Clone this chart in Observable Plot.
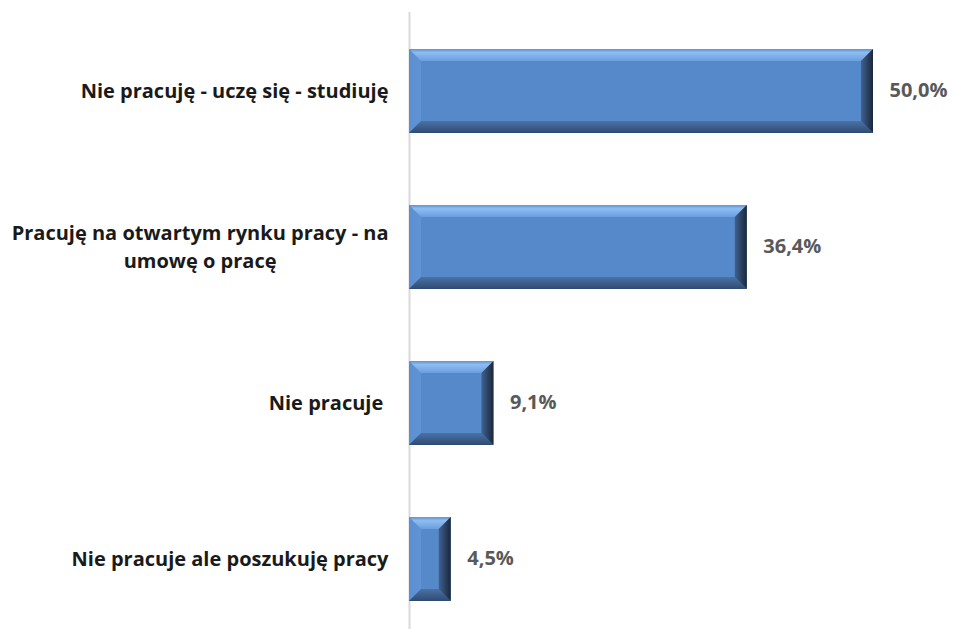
<!DOCTYPE html>
<html>
<head>
<meta charset="utf-8">
<script src="https://cdn.jsdelivr.net/npm/d3@7"></script>
<script src="https://cdn.jsdelivr.net/npm/@observablehq/plot@0.6"></script>
<style>
  html, body { margin: 0; padding: 0; background: #fff; }
  svg { display: block; }
</style>
</head>
<body>
<div id="chart"></div>
<script>
const categories = [
  "Nie pracuję - uczę się - studiuję",
  "Pracuję na otwartym rynku pracy - na\numowę o pracę",
  "Nie pracuje ",
  "Nie pracuje ale poszukuję pracy"
];
const values = [50.0, 36.4, 9.1, 4.5];
const valueLabels = ["50,0%", "36,4%", "9,1%", "4,5%"];

const data = categories.map((c, i) => ({cat: c, value: values[i], label: valueLabels[i]}));

function bevel(index, scales, vals, dimensions, context, next) {
  const g = next(index, scales, vals, dimensions, context);
  d3.select(g).selectAll("rect").each(function () {
    const x = +this.getAttribute("x"), y = +this.getAttribute("y");
    const w = +this.getAttribute("width"), h = +this.getAttribute("height");
    const b = Math.min(12, w / 3, h / 3);
    const parent = d3.select(this.parentNode);
    const poly = (pts, fill) => parent.append("polygon")
      .attr("points", pts.map(p => p.join(",")).join(" "))
      .attr("fill", fill);
    poly([[x, y], [x + b, y + b], [x + b, y + h - b], [x, y + h]], "url(#bvL)");
    poly([[x, y], [x + w, y], [x + w - b, y + b], [x + b, y + b]], "url(#bvT)");
    poly([[x, y + h], [x + b, y + h - b], [x + w - b, y + h - b], [x + w, y + h]], "url(#bvB)");
    poly([[x + w, y], [x + w, y + h], [x + w - b, y + h - b], [x + w - b, y + b]], "url(#bvR)");
  });
  return g;
}

const font = "'Open Sans', Lato, sans-serif";

const chart = Plot.plot({
  width: 954,
  height: 629,
  marginLeft: 409,
  marginRight: 81,
  marginTop: 12,
  marginBottom: 0,
  x: {domain: [0, 50], axis: null},
  y: {domain: categories, range: [12, 639], paddingInner: 0.46, paddingOuter: 0.23, axis: null},
  style: {fontFamily: font, background: "#fff"},
  marks: [
    Plot.ruleX([0], {stroke: "#d9d9d9", strokeWidth: 2}),
    Plot.barX(data, {x: "value", y: "cat", fill: "#5589CA", render: bevel}),
    Plot.text(data, {x: "value", y: "cat", text: "label", textAnchor: "start", dx: 16, dy: -1,
      fill: "#595959", fontWeight: "bold", fontSize: 20, letterSpacing: 1.6}),
    Plot.text(data, {x: 0, y: "cat", text: "cat", textAnchor: "end", dx: -21, dy: -2,
      fill: "#1a1a1a", fontWeight: "bold", fontSize: 20, lineHeight: 1.4})
  ]
});

const defs = d3.select(chart).insert("defs", ":first-child");
function grad(id, x2, y2, stops) {
  const lg = defs.append("linearGradient").attr("id", id)
    .attr("x1", 0).attr("y1", 0).attr("x2", x2).attr("y2", y2);
  stops.forEach(([o, c]) => lg.append("stop").attr("offset", o).attr("stop-color", c));
}
grad("bvT", 0, 1, [[0, "#5f92d2"], [0.3, "#8ebdf0"], [1, "#6a9edf"]]);
grad("bvL", 1, 0, [[0, "#5b8fcf"], [1, "#5f93d3"]]);
grad("bvB", 0, 1, [[0, "#4a72a6"], [1, "#2f4a70"]]);
grad("bvR", 1, 0, [[0, "#3f6190"], [1, "#1b2739"]]);

document.getElementById("chart").appendChild(chart);

// center multi-line labels relative to their longest line
d3.select(chart).selectAll("text").each(function () {
  const tspans = this.querySelectorAll("tspan");
  if (tspans.length < 2) return;
  const widths = Array.from(tspans, t => t.getComputedTextLength());
  const maxW = Math.max(...widths);
  tspans.forEach((t, i) => {
    t.setAttribute("dx", -(maxW - widths[i]) / 2);
  });
});
</script>
</body>
</html>
